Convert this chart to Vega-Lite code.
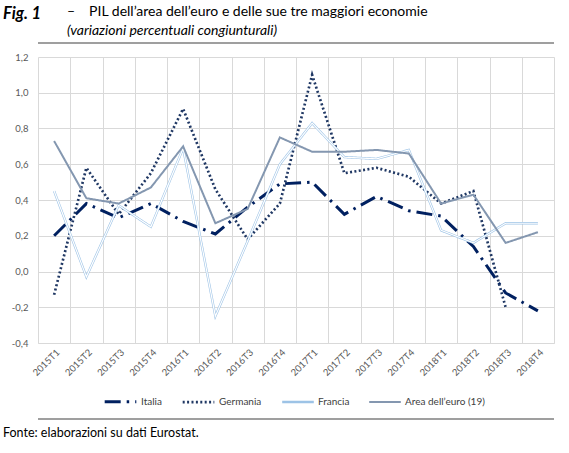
{
  "$schema": "https://vega.github.io/schema/vega-lite/v6.json",
  "padding": {"left": 0, "right": 0, "top": 4, "bottom": 0},
  "background": "white",
  "title": {"text": "Fig. 1", "anchor": "start", "fontStyle": "italic", "fontWeight": "bold", "fontSize": 16.5, "dx": 3, "offset": -18, "color": "#000000"},
  "spacing": 7,
  "resolve": {"legend": {"color": "independent", "strokeDash": "independent", "strokeWidth": "independent"}},
  "vconcat": [
    {
      "width": 516,
      "height": 10,
      "data": {"values": [{"r": 0}]},
      "mark": {"type": "rule", "color": "#7f7f7f", "strokeWidth": 1.5},
      "encoding": {"y": {"field": "r", "type": "quantitative", "axis": null, "scale": {"domain": [0, 1]}}},
      "view": {"stroke": "transparent", "fill": "white"},
      "title": {
        "text": "–\u2002\u2002PIL dell’area dell’euro e delle sue tre maggiori economie",
        "subtitle": "\u2003\u2009(variazioni percentuali congiunturali)",
        "anchor": "start",
        "frame": "group",
        "dx": 29,
        "fontSize": 14,
        "fontWeight": "normal",
        "color": "#000000",
        "subtitleFontSize": 14,
        "subtitleFontStyle": "italic",
        "subtitleColor": "#000000",
        "subtitlePadding": 5,
        "offset": -5
      }
    },
    {
      "spacing": 9,
      "resolve": {"legend": {"color": "independent", "strokeDash": "independent", "strokeWidth": "independent"}},
      "vconcat": [
        {
          "width": 516,
          "height": 286,
          "view": {"stroke": null},
          "data": {"values": [
            {"q": "2015T1", "s": "Italia", "v": 0.20},
            {"q": "2015T2", "s": "Italia", "v": 0.38},
            {"q": "2015T3", "s": "Italia", "v": 0.30},
            {"q": "2015T4", "s": "Italia", "v": 0.38},
            {"q": "2016T1", "s": "Italia", "v": 0.28},
            {"q": "2016T2", "s": "Italia", "v": 0.21},
            {"q": "2016T3", "s": "Italia", "v": 0.36},
            {"q": "2016T4", "s": "Italia", "v": 0.49},
            {"q": "2017T1", "s": "Italia", "v": 0.50},
            {"q": "2017T2", "s": "Italia", "v": 0.32},
            {"q": "2017T3", "s": "Italia", "v": 0.42},
            {"q": "2017T4", "s": "Italia", "v": 0.34},
            {"q": "2018T1", "s": "Italia", "v": 0.31},
            {"q": "2018T2", "s": "Italia", "v": 0.14},
            {"q": "2018T3", "s": "Italia", "v": -0.12},
            {"q": "2018T4", "s": "Italia", "v": -0.22},
            {"q": "2015T1", "s": "Germania", "v": -0.13},
            {"q": "2015T2", "s": "Germania", "v": 0.58},
            {"q": "2015T3", "s": "Germania", "v": 0.32},
            {"q": "2015T4", "s": "Germania", "v": 0.55},
            {"q": "2016T1", "s": "Germania", "v": 0.91},
            {"q": "2016T2", "s": "Germania", "v": 0.46},
            {"q": "2016T3", "s": "Germania", "v": 0.18},
            {"q": "2016T4", "s": "Germania", "v": 0.38},
            {"q": "2017T1", "s": "Germania", "v": 1.10},
            {"q": "2017T2", "s": "Germania", "v": 0.55},
            {"q": "2017T3", "s": "Germania", "v": 0.58},
            {"q": "2017T4", "s": "Germania", "v": 0.53},
            {"q": "2018T1", "s": "Germania", "v": 0.38},
            {"q": "2018T2", "s": "Germania", "v": 0.45},
            {"q": "2018T3", "s": "Germania", "v": -0.20},
            {"q": "2015T1", "s": "Francia", "v": 0.45},
            {"q": "2015T2", "s": "Francia", "v": -0.03},
            {"q": "2015T3", "s": "Francia", "v": 0.37},
            {"q": "2015T4", "s": "Francia", "v": 0.25},
            {"q": "2016T1", "s": "Francia", "v": 0.69},
            {"q": "2016T2", "s": "Francia", "v": -0.25},
            {"q": "2016T3", "s": "Francia", "v": 0.17},
            {"q": "2016T4", "s": "Francia", "v": 0.60},
            {"q": "2017T1", "s": "Francia", "v": 0.83},
            {"q": "2017T2", "s": "Francia", "v": 0.64},
            {"q": "2017T3", "s": "Francia", "v": 0.63},
            {"q": "2017T4", "s": "Francia", "v": 0.68},
            {"q": "2018T1", "s": "Francia", "v": 0.23},
            {"q": "2018T2", "s": "Francia", "v": 0.16},
            {"q": "2018T3", "s": "Francia", "v": 0.27},
            {"q": "2018T4", "s": "Francia", "v": 0.27},
            {"q": "2015T1", "s": "Area dell’euro (19)", "v": 0.73},
            {"q": "2015T2", "s": "Area dell’euro (19)", "v": 0.41},
            {"q": "2015T3", "s": "Area dell’euro (19)", "v": 0.38},
            {"q": "2015T4", "s": "Area dell’euro (19)", "v": 0.47},
            {"q": "2016T1", "s": "Area dell’euro (19)", "v": 0.70},
            {"q": "2016T2", "s": "Area dell’euro (19)", "v": 0.27},
            {"q": "2016T3", "s": "Area dell’euro (19)", "v": 0.35},
            {"q": "2016T4", "s": "Area dell’euro (19)", "v": 0.75},
            {"q": "2017T1", "s": "Area dell’euro (19)", "v": 0.67},
            {"q": "2017T2", "s": "Area dell’euro (19)", "v": 0.67},
            {"q": "2017T3", "s": "Area dell’euro (19)", "v": 0.68},
            {"q": "2017T4", "s": "Area dell’euro (19)", "v": 0.66},
            {"q": "2018T1", "s": "Area dell’euro (19)", "v": 0.38},
            {"q": "2018T2", "s": "Area dell’euro (19)", "v": 0.43},
            {"q": "2018T3", "s": "Area dell’euro (19)", "v": 0.16},
            {"q": "2018T4", "s": "Area dell’euro (19)", "v": 0.22}
          ]},
          "encoding": {
            "x": {
              "field": "q", "type": "ordinal", "bandPosition": 0.5,
              "scale": {"type": "band", "paddingInner": 0, "paddingOuter": 0},
              "axis": {"title": null, "labelAngle": -45, "tickBand": "extent", "ticks": false, "grid": true, "gridColor": "#d9d9d9", "domainColor": "#d9d9d9", "labelFontSize": 9.5, "labelColor": "#595959", "labelPadding": 4}
            },
            "y": {
              "field": "v", "type": "quantitative",
              "scale": {"domain": [-0.4, 1.2], "nice": false, "zero": false},
              "axis": {"title": null, "values": [-0.4, -0.2, 0, 0.2, 0.4, 0.6, 0.8, 1, 1.2], "format": ".1f", "ticks": false, "domain": false, "grid": true, "gridColor": "#d9d9d9", "labelFontSize": 9.5, "labelColor": "#595959", "labelPadding": 10, "minExtent": 38}
            }
          },
          "layer": [
            {
              "transform": [{"filter": "datum.s !== 'Area dell’euro (19)'"}],
              "mark": {"type": "line", "strokeCap": "butt", "strokeJoin": "miter"},
              "encoding": {
                "color": {"field": "s", "type": "nominal", "scale": {"domain": ["Italia", "Germania", "Francia", "Area dell’euro (19)"], "range": ["#002060", "#203864", "#9dc3e6", "#8497b0"]}},
                "strokeDash": {"field": "s", "type": "nominal", "scale": {"domain": ["Italia", "Germania", "Francia", "Area dell’euro (19)"], "range": [[16, 6, 2.5, 6], [2, 2.4], [1, 0], [1, 0]]}},
                "strokeWidth": {"field": "s", "type": "nominal", "scale": {"domain": ["Italia", "Germania", "Francia", "Area dell’euro (19)"], "range": [3, 2, 4, 3]}}
              }
            },
            {
              "transform": [{"filter": "datum.s === 'Francia'"}],
              "mark": {"type": "line", "color": "#ffffff", "strokeWidth": 1.2, "strokeJoin": "miter"},
              "encoding": {"detail": {"field": "s", "type": "nominal"}}
            },
            {
              "transform": [{"filter": "datum.s === 'Area dell’euro (19)'"}],
              "mark": {"type": "line", "strokeCap": "butt", "strokeJoin": "miter"},
              "encoding": {
                "color": {"field": "s", "type": "nominal", "scale": {"domain": ["Italia", "Germania", "Francia", "Area dell’euro (19)"], "range": ["#002060", "#203864", "#9dc3e6", "#8497b0"]}},
                "strokeDash": {"field": "s", "type": "nominal", "scale": {"domain": ["Italia", "Germania", "Francia", "Area dell’euro (19)"], "range": [[16, 6, 2.5, 6], [2, 2.4], [1, 0], [1, 0]]}},
                "strokeWidth": {"field": "s", "type": "nominal", "scale": {"domain": ["Italia", "Germania", "Francia", "Area dell’euro (19)"], "range": [3, 2, 4, 3]}}
              }
            }
          ]
        },
        {
          "width": 516,
          "height": 10,
          "data": {"values": [{"r": 1}]},
          "mark": {"type": "rule", "color": "#7f7f7f", "strokeWidth": 1.5},
          "encoding": {"y": {"field": "r", "type": "quantitative", "axis": null, "scale": {"domain": [0, 1]}}},
          "view": {"stroke": "transparent", "fill": "white"},
          "title": {"text": "Fonte: elaborazioni su dati Eurostat.", "orient": "bottom", "anchor": "start", "frame": "group", "fontSize": 12.5, "fontWeight": "normal", "color": "#000000", "offset": -2, "dx": -35}
        }
      ]
    }
  ],
  "config": {
    "font": "Lato",
    "locale": {"number": {"decimal": ",", "thousands": ".", "grouping": [3], "currency": ["", " €"], "minus": "-"}},
    "legend": {"orient": "none", "legendX": 65, "legendY": 327, "direction": "horizontal", "title": null, "symbolType": "stroke", "symbolSize": 1000, "labelFontSize": 10, "labelColor": "#404040", "columnPadding": 15, "labelOffset": 3},
    "title": {"font": "Lato"}
  }
}
